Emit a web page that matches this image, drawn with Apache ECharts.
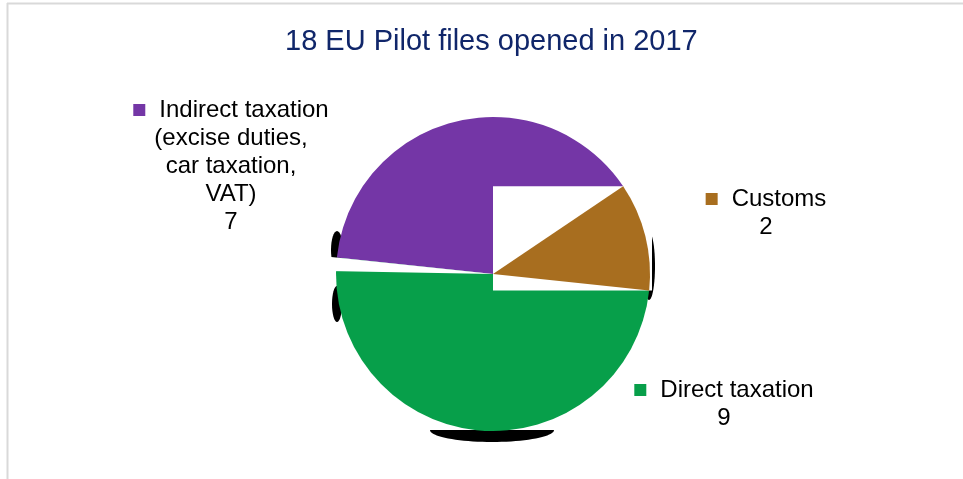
<!DOCTYPE html>
<html>
<head>
<meta charset="utf-8">
<script src="https://cdn.jsdelivr.net/npm/echarts@6/dist/echarts.min.js"></script>
<style>html,body{margin:0;padding:0;background:#fff}#c{width:963px;height:479px}</style>
</head>
<body>
<div id="c"></div>
<script>
const titleText = '18 EU Pilot files opened in 2017';
const categories = ['Customs', 'Direct taxation', 'Indirect taxation\n(excise duties,\ncar taxation,\nVAT)'];
const values = [2, 9, 7];
const colors = ['#A86E1F', '#079F4A', '#7436A6'];

const labelPos = [[766, 213], [724, 404], [231, 166]];
const CX = 493, CY = 274, R = 157, START = 34, GAP = 5;

const chart = echarts.init(document.getElementById('c'), null, {renderer: 'canvas'});

function labelFmt(p) {
  const lines = p.name.split('\n');
  let s = '{m|}{g|}{t|' + lines[0] + '}';
  for (let i = 1; i < lines.length; i++) s += '\n{t|' + lines[i] + '}';
  s += '\n{t|' + p.value + '}';
  return s;
}

const total = values.reduce((a, b) => a + b, 0);
const deg = Math.PI / 180;
const a1 = START * deg;
const a2 = (START - values[0] / total * 360) * deg;
const rectTop = CY - R * Math.sin(a1);
const rectBot = CY - R * Math.sin(a2);
// boundary between direct and indirect slices (math angle, degrees)
const bDI = START - (values[0] + values[1]) / total * 360 + 360;

// lower half-ellipse shadow under the pie
const shadowPts = [];
for (let k = 0; k <= 40; k++) {
  const t = Math.PI * k / 40;
  shadowPts.push([CX - 1 + 62 * Math.cos(t), CY + R - 1 + 12 * Math.sin(t)]);
}

function only(k) {
  return categories.map((c, i) => ({
    name: c, value: values[i],
    itemStyle: {color: i === k ? colors[i] : 'rgba(0,0,0,0)'}
  }));
}

const data1 = categories.map((c, i) => ({
  name: c, value: values[i],
  itemStyle: {color: colors[i]},
  label: {rich: {
    m: {width: 12, height: 12, backgroundColor: colors[i], align: 'center'},
    g: {width: 14, align: 'center'},
    t: {fontSize: 24, lineHeight: 28, color: '#000', fontFamily: 'Liberation Sans', align: 'center'}
  }}
}));

const base = {type: 'pie', radius: R, startAngle: START, clockwise: true, emphasis: {disabled: true}, labelLine: {show: false}};

chart.setOption({
  backgroundColor: '#fff',
  animation: false,
  title: {
    text: titleText, left: 285, top: 27, padding: 0,
    textStyle: {fontSize: 29, fontWeight: 'normal', color: '#10266A', fontFamily: 'Liberation Sans'}
  },
  graphic: [
    {type: 'line', shape: {x1: 7, y1: 3.5, x2: 963, y2: 3.5}, style: {stroke: '#D9D9D9', lineWidth: 2}, z: 0},
    {type: 'line', shape: {x1: 7.5, y1: 3, x2: 7.5, y2: 479}, style: {stroke: '#D9D9D9', lineWidth: 2}, z: 0},
    // dark bevel shadow artefacts around the rim
    {type: 'polygon', shape: {points: shadowPts}, style: {fill: '#000'}, z: 1},
    {type: 'ellipse', shape: {cx: CX - R + 1, cy: CY - 24, rx: 6, ry: 19}, style: {fill: '#000'}, z: 1},
    {type: 'ellipse', shape: {cx: CX - R + 1, cy: CY + 30, rx: 5, ry: 18}, style: {fill: '#000'}, z: 1},
    {type: 'ellipse', shape: {cx: CX + R - 1, cy: CY - 8, rx: 6, ry: 34}, style: {fill: '#000'}, z: 1},
    {type: 'sector', shape: {cx: CX, cy: CY, r0: 0, r: R + 8, startAngle: -(bDI + GAP) * deg, endAngle: -bDI * deg, clockwise: true}, style: {fill: '#fff'}, z: 4},
    {type: 'rect', shape: {x: CX, y: rectTop, width: R + 2, height: rectBot - rectTop}, style: {fill: '#fff'}, z: 5}
  ],
  series: [
    Object.assign({}, base, {
      z: 2, center: [CX, CY], avoidLabelOverlap: false, silent: true,
      label: {show: true, position: 'inside', formatter: labelFmt, align: 'center', verticalAlign: 'middle'},
      labelLayout: function (p) {
        const q = labelPos[p.dataIndex];
        return {x: q[0], y: q[1], align: 'center', verticalAlign: 'middle'};
      },
      data: data1
    }),
    Object.assign({}, base, {z: 8, center: [CX, CY], silent: true, label: {show: false}, data: only(0)})
  ]
});
</script>
</body>
</html>
